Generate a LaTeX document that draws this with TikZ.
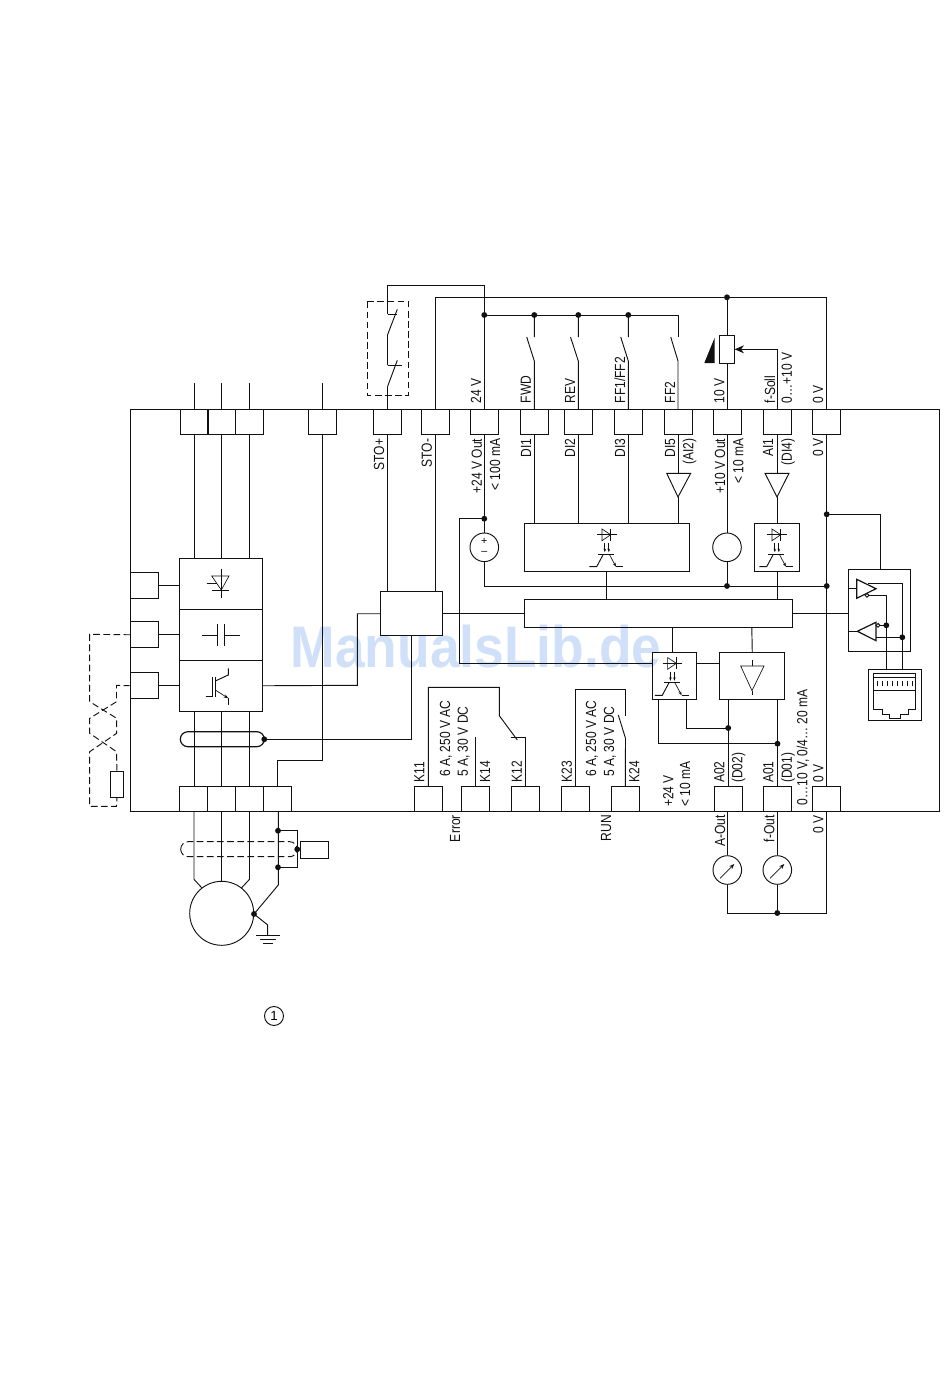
\documentclass[tikz,border=0pt]{standalone}
\usepackage{fontspec}
\setmainfont{Liberation Sans}
\newfontfamily\lblfont[FakeStretch=0.82]{Liberation Sans}
\newfontfamily\wmfont[FakeStretch=0.91]{Liberation Sans}
\usetikzlibrary{arrows.meta}
\definecolor{wmark}{HTML}{CFE0F8}
\definecolor{wire}{HTML}{111111}
\tikzset{
  box/.style={draw=wire,line width=0.7pt,inner sep=0,minimum width=#1},
  term/.style={box=28*0.75pt,minimum height=25*0.75pt},
  lbl/.style={rotate=90,anchor=west,inner sep=0,text height=7.6pt,text depth=0pt,font=\lblfont\fontsize{11}{12}\selectfont,text=wire},
  dot/.style={circle,fill=wire,inner sep=0,minimum size=4.4pt},
  ln/.style={draw=wire,line width=0.7pt},
  thinln/.style={draw=wire,line width=0.5pt},
  dashln/.style={draw=wire,line width=0.7pt,dash pattern=on 5pt off 2.6pt},
  meter/.style={draw=wire,line width=0.7pt,circle,inner sep=0,minimum size=28.6*0.75pt},
  opto/.pic={
    \draw[thinln] (-9.4,0) -- (10,0);
    \draw[thinln] (-4.7,-5.7) -- (-4.7,6) -- (4,0) -- cycle;
    \draw[thinln] (4,-6) -- (4,6);
    \draw[thinln,-{Stealth[length=2.6pt]}] (-1.9,8.5) -- (-1.9,17.5);
    \draw[thinln,-{Stealth[length=2.6pt]}] (2.1,8.5) -- (2.1,17.5);
    \draw[ln] (-8.4,19.6) -- (7.3,19.6);
    \draw[ln] (-3.4,19.6) -- (-10,32) -- (-17.4,32);
    \draw[thinln,-{Stealth[length=3pt]}] (2.6,19.6) -- (9.3,32);
    \draw[ln] (9.3,32) -- (16.6,32);
  }
}
\begin{document}
\begin{tikzpicture}[x=0.75pt,y=-0.75pt]
  \useasboundingbox (0,0) rectangle (950,1398);
  % watermark
  \node[text=wmark,inner sep=0,font=\wmfont\bfseries\fontsize{44}{50}\selectfont] (wm) at (476,647) {ManualsLib.de};

  % frame
  \node[box=809*0.75pt,minimum height=402*0.75pt,anchor=north west] (frame) at (130.3,409.3) {};

  % terminals on top
  \foreach \tname/\tx in {tL/194,tM/221.9,tR/249.8,tPE/322.7,tSa/387.5,tSb/435,tV/484.3,tDa/534.3,tDb/578.3,tDc/628.3,tDe/678,tTen/727,tAI/777,tZ/826.7}
    \node[term] (\tname) at (\tx,421.8) {};
  % terminals at the bottom
  \foreach \tname/\tx in {bU/193.5,bV/221.5,bW/249.5,bPE/277.7,bKa/428.3,bKb/475.3,bKc/525,bKd/575,bKe/625.3,bAO/728.2,bAP/777.5,bZ/826.2}
    \node[term] (\tname) at (\tx,799) {};
  % boxes on the left edge
  \node[term,anchor=north west,minimum height=26*0.75pt] (sa) at (130.3,572.3) {};
  \node[term,anchor=north west,minimum height=26*0.75pt] (sb) at (130.3,621.3) {};
  \node[term,anchor=north west,minimum height=26*0.75pt] (sc) at (130.3,672.3) {};

  % power stage
  \node[box=83*0.75pt,minimum height=51*0.75pt,anchor=north west] (rect) at (179.3,558.3) {};
  \node[box=83*0.75pt,minimum height=51*0.75pt,anchor=north west] (link) at (179.3,609.3) {};
  \node[box=83*0.75pt,minimum height=51*0.75pt,anchor=north west] (inv) at (179.3,660.3) {};

  % control boxes
  \node[box=61.4*0.75pt,minimum height=44*0.75pt,anchor=north west] (sto) at (380.3,591.3) {};
  \node[box=164.7*0.75pt,minimum height=47.4*0.75pt,anchor=north west] (optoA) at (524,523.3) {};
  \node[box=44.4*0.75pt,minimum height=47.4*0.75pt,anchor=north west] (optoB) at (754.3,523.3) {};
  \node[box=267.7*0.75pt,minimum height=28*0.75pt,anchor=north west] (bus) at (524,599.3) {};
  \node[box=44*0.75pt,minimum height=47*0.75pt,anchor=north west] (optoC) at (651.7,652.3) {};
  \node[box=65*0.75pt,minimum height=47*0.75pt,anchor=north west] (amp) at (719.3,652.3) {};
  \node[box=62*0.75pt,minimum height=81.4*0.75pt,anchor=north west] (drv) at (848.3,569.3) {};
  \node[box=52.4*0.75pt,minimum height=51*0.75pt,anchor=north west] (rj) at (868.3,669.3) {};
  \node[box=27.4*0.75pt,minimum height=16.4*0.75pt,anchor=north west] (enc) at (300.3,841.3) {};
  \node[box=12.4*0.75pt,minimum height=25.7*0.75pt,anchor=north west] (brk) at (110.3,771) {};
  \node[box=14.4*0.75pt,minimum height=28*0.75pt] (pot) at (727,349.3) {};

  % sources, meters, motor
  \node[meter] (srcA) at (484.3,547.3) {};
  \node[meter] (srcB) at (727,547.3) {};
  \node[meter] (mA) at (727.3,870) {};
  \node[meter] (mF) at (777.3,870) {};
  \node[draw=wire,line width=0.7pt,circle,inner sep=0,minimum size=64*0.75pt] (motor) at (221.7,913.3) {};
  \node[draw=wire,line width=0.7pt,circle,inner sep=0,minimum size=19*0.75pt,font=\fontsize{10}{12}\selectfont] (note) at (274,1016) {1};
  \node[inner sep=0,font=\fontsize{8}{9}\selectfont] (plus) at (484.3,541) {+};
  \node[inner sep=0,font=\fontsize{8}{9}\selectfont] (minus) at (484.3,553) {--};

  % dots
  \node[dot] (dTop) at (727,297.3) {};
  \node[dot] (dBusV) at (484.3,315) {};
  \node[dot] (dBusA) at (534.3,315) {};
  \node[dot] (dBusB) at (578.3,315) {};
  \node[dot] (dBusC) at (628.3,315) {};
  \node[dot] (dSrc) at (484.3,518.7) {};
  \node[dot] (dZa) at (826.7,514.3) {};
  \node[dot] (dZb) at (826.7,586) {};
  \node[dot] (dMid) at (727,586) {};
  \node[dot] (dAO) at (728.2,728) {};
  \node[dot] (dAP) at (777.5,743.7) {};
  \node[dot] (dMet) at (777.3,913) {};
  \node[dot] (dRing) at (264.3,739.3) {};
  \node[dot] (dShA) at (278,830.7) {};
  \node[dot] (dShB) at (278,867.3) {};
  \node[dot] (dShC) at (297.2,849.3) {};
  \node[dot] (dStar) at (254,914) {};
  \node[dot] (dDa) at (886.3,625.3) {};
  \node[dot] (dDb) at (902.3,637.3) {};

  % free ends and switch points
  \coordinate (inL) at (194,383);
  \coordinate (inM) at (221.9,383);
  \coordinate (inR) at (249.8,383);
  \coordinate (inPE) at (322.7,383);
  \coordinate (cSa) at (387.5,335);
  \coordinate (cSb) at (387.5,386.7);

  % mains and motor wires
  \draw[ln] (inL) -- (tL.north) (tL.south) -- (tL.south |- rect.north);
  \draw[ln] (inM) -- (tM.north) (tM.south) -- (tM.south |- rect.north);
  \draw[ln] (inR) -- (tR.north) (tR.south) -- (tR.south |- rect.north);
  \draw[ln] (inL |- inv.south) -- (inL |- bU.north);
  \draw[ln] (inM |- inv.south) -- (inM |- bU.north);
  \draw[ln] (inR |- inv.south) -- (inR |- bU.north);
  \draw[ln] (inPE) -- (tPE.north) (tPE.south) -- (322.7,760.3) -| (bPE.north);
  \draw[ln] (bU.south -| inL) -- (194,879.3) -- (motor.128);
  \draw[ln] (bV.south) -- (motor.north -| bV);
  \draw[ln] (bW.south) -- (249.5,879.3) -- (motor.52);
  \draw[ln] (278.3,811.3) -- (278.3,885) -- (dStar.center) -- (267.7,925) -- (267.7,935);
  \draw[ln] (256,935) -- (280,935) (260,939.3) -- (276,939.3) (263.3,943.3) -- (272.7,943.3);
  \draw[ln] (dShA.center) -| (dShC.center) |- (dShB.center);
  \draw[ln] (dShC.center) -- (enc.west);
  \draw[dashln,rounded corners=7.5*0.75pt] (180.7,841.7) rectangle (297.2,856.7);
  \draw[ln,line width=0.9pt,rounded corners=7.5*0.75pt] (180.3,731.7) rectangle (264.3,746.7);

  % left edge
  \draw[ln] (sa.east) -- (sa.east -| rect.west);
  \draw[ln] (sb.east) -- (sb.east -| link.west);
  \draw[ln] (sc.east) -- (sc.east -| inv.west);
  \draw[dashln] (sb.west) -- (89.7,634.3) -- (89.7,701.7) -- (116.7,718.3) -- (116.7,733.3) -- (89.7,751.7) -- (89.7,806.3) -- (116.5,806.3) -- (brk.south);
  \draw[dashln] (sc.west) -- (116.5,685.3) -- (116.5,701.7) -- (89.7,718.3) -- (89.7,733.3) -- (116.5,751.7) -- (brk.north);

  % symbols of the power stage
  \draw[thinln] (221.3,569.3) -- (221.3,597.7) (206.7,583.3) -- (217.3,583.3);
  \draw[thinln] (211.7,576) -- (229,576) -- (221.3,590) -- cycle;
  \draw[ln] (211.7,590) -- (229,590);
  \draw[ln] (202.3,635.3) -- (217,635.3) (224.3,635.3) -- (239.7,635.3);
  \draw[ln] (217,624.3) -- (217,645.7) (224.3,624.3) -- (224.3,645.7);
  \draw[ln] (205.7,696) -- (212.3,696) -- (212.3,676.7) (215.3,676.7) -- (215.3,696.7);
  \draw[ln] (215.3,681) -- (228.3,675) -- (228.3,668.3);
  \draw[ln] (228.3,698.3) -- (228.3,705);
  \draw[thinln,-{Stealth[length=3.5pt]}] (215.3,690) -- (228.3,698.3);

  % stage to safety box
  \draw[ln] (inv.east |- sc) -- (357.3,685.3) |- (sto.west);
  \draw[ln] (dRing.center) -- (411.7,739.3) -- (411.7,635.3);
  \draw[ln] (tSa.south) -- (tSa.south |- sto.north);
  \draw[ln] (tSb.south) -- (tSb.south |- sto.north);

  % safety switches
  \draw[dashln] (367.3,301.5) rectangle (408.5,395.3);
  \draw[ln] (tSa.north) -- (cSb);
  \draw[ln] (cSb) -- (397.3,360.3);
  \draw[ln] (387.5,365.3) -- (401.7,365.3) (387.5,365.3) -- (cSa);
  \draw[ln] (cSa) -- (397.3,309.3);
  \draw[ln] (387.5,314) -- (397.3,314);
  \draw[ln] (387.5,314) |- (484.3,285.5) -- (tV.north);
  \draw[ln] (tSb.north) |- (dTop.center) -| (tZ.north);

  % inputs
  \draw[ln] (dBusV.center) -- (678,315) -- (678,337);
  \draw[ln] (dBusA.center) -- (534.3,337) (526.7,337) -- (534.3,361) -- (tDa.north);
  \draw[ln] (dBusB.center) -- (578.3,337) (570.5,337) -- (578.3,361) -- (tDb.north);
  \draw[ln] (dBusC.center) -- (628.3,337) (620.7,337) -- (628.3,361) -- (tDc.north);
  \draw[ln] (670.7,337) -- (678,361) -- (tDe.north);

  % potentiometer
  \draw[ln] (dTop.center) -- (pot.north);
  \draw[ln] (pot.south) -- (tTen.north);
  \draw[ln,-{Stealth[length=7pt,width=6pt]}] (tAI.north) |- (pot.east);
  \fill[wire] (704.3,363) -- (714.5,363) -- (714.5,338) -- cycle;

  % input amplifiers
  \draw[ln] (666.7,473.3) -- (690.7,473.3) -- (678,497) -- cycle;
  \draw[ln] (765,473.3) -- (789,473.3) -- (777,497) -- cycle;
  \draw[ln] (tDa.south) -- (tDa.south |- optoA.north);
  \draw[ln] (tDb.south) -- (tDb.south |- optoA.north);
  \draw[ln] (tDc.south) -- (tDc.south |- optoA.north);
  \draw[ln] (tDe.south) -- (678,473.3) (678,497) -- (678,523.3);
  \draw[ln] (tAI.south) -- (777,473.3) (777,497) -- (optoB.north -| tAI);
  \draw[ln] (optoB.south -| tAI) -- (bus.north -| tAI);
  \draw[ln] (optoA.south) -- (optoA.south |- bus.north);

  % supplies
  \draw[ln] (tV.south) -- (srcA.north);
  \draw[ln] (tTen.south) -- (srcB.north);
  \draw[ln] (srcB.south) -- (dMid.center);
  \draw[ln] (srcA.south) |- (dZb.center);
  \draw[ln] (tZ.south) -- (bZ.north -| tZ);
  \draw[ln] (dSrc.center) -- (459.3,518.7) -- (459.3,663.3) -- (651.7,663.3);
  \draw[ln] (sto.east) -- (bus.west |- sto);
  \draw[ln] (bus.east) -- (drv.west |- bus);

  % relays
  \draw[ln] (bKa.north) -- (428.3,687.3) -| (499.3,715.7) -- (517.3,740);
  \draw[ln] (bKb.north) -- (475.3,737.3);
  \draw[ln] (bKc.north) -- (525,737.3) -- (510.7,737.3);
  \draw[ln] (bKd.north) -- (575,689.3) -| (625.5,716);
  \draw[ln] (bKe.north) -- (625.5,738.3) -- (618.3,715);

  % outputs
  \draw[ln] (672.3,627.3) -- (672.3,652.3);
  \draw[ln] (751.8,627.3) -- (amp.north);
  \draw[ln] (695.7,663.3) -- (719.3,663.3);
  \draw[ln] (amp.south -| bAO) -- (bAO.north);
  \draw[ln] (amp.south -| bAP) -- (bAP.north);
  \draw[ln] (686.3,699.3) |- (dAO.center);
  \draw[ln] (658.3,699.3) |- (dAP.center);
  \draw[thinln] (740.7,666) -- (764,666) -- (752,690.7) -- cycle;
  \draw[thinln] (752,660) -- (752,666) (752,690.7) -- (752,695);

  % meters
  \draw[ln] (bAO.south -| mA) -- (mA.north);
  \draw[ln] (bAP.south -| mF) -- (mF.north);
  \draw[ln] (mA.south) |- (dMet.center);
  \draw[ln] (mF.south) -- (dMet.center);
  \draw[ln] (dMet.center) -| (bZ.south);
  \draw[thinln,-{Stealth[length=4pt]}] (720,878.3) -- (734.3,864);
  \draw[thinln,-{Stealth[length=4pt]}] (770,878.3) -- (784.3,864);

  % drivers and socket
  \draw[ln] (dZa.center) -| (880.3,569.3);
  \draw[ln] (848.3,588.5) -- (856.7,588.5) (848.3,631.3) -- (857.3,631.3);
  \draw[ln,line width=0.9pt] (856.7,579.3) -- (876,588.7) -- (856.7,598.3) -- cycle;
  \draw[ln,line width=0.9pt] (857.3,631.3) -- (876,622.3) -- (876,640.7) -- cycle;
  \draw[ln,fill=white] (867,595.3) circle (1.9);
  \draw[ln,fill=white] (878,625.3) circle (1.9);
  \draw[ln] (868,583.3) -| (902.3,669.3);
  \draw[ln] (869,595.3) -| (886.3,669.3);
  \draw[ln] (880,625.3) -- (dDa.center);
  \draw[ln] (876,637.3) -- (dDb.center);
  \draw[ln] (873.3,690) -- (873.3,673.3) -- (915.7,673.3) -- (915.7,690) -- cycle;
  \draw[ln] (873.3,677.7) -- (915.7,677.7);
  \draw[ln] (873.3,690) -- (873.3,709.7) -- (882,709.7) -- (882,714.7) -- (889.3,714.7) -- (889.3,718.3) -- (900.7,718.3) -- (900.7,714.7) -- (908.3,714.7) -- (908.3,709.7) -- (915.7,709.7) -- (915.7,690);
  \foreach \px in {0,...,7}
    \draw[thinln] ({877.3+\px*5.06},681) -- ({877.3+\px*5.06},686);

  % opto couplers
  \pic at (606.7,534.7) {opto};
  \pic at (776.7,534.7) {opto};
  \pic at (672.3,663.3) {opto};

  % labels above the frame
  \node[lbl] (l24) at (476,403.5) {24 V};
  \node[lbl] (lFWD) at (525.7,403.5) {FWD};
  \node[lbl] (lREV) at (570,403.5) {REV};
  \node[lbl] (lFFa) at (620,403.5) {FF1/FF2};
  \node[lbl] (lFFb) at (670,403.5) {FF2};
  \node[lbl] (lTen) at (719.3,403.5) {10 V};
  \node[lbl] (lSoll) at (770,403.5) {f-Soll};
  \node[lbl] (lRange) at (786.7,403.5) {0…+10 V};
  \node[lbl] (lZt) at (818,403.5) {0 V};
  % labels below the top edge
  \node[lbl,anchor=east] (lSTOa) at (379,438.5) {STO+};
  \node[lbl,anchor=east] (lSTOb) at (426.7,438.5) {STO-};
  \node[lbl,anchor=east] (lOut) at (476.7,438.5) {+24 V Out};
  \node[lbl,anchor=east] (lMa) at (495,438.5) {< 100 mA};
  \node[lbl,anchor=east] (lDIa) at (526,438.5) {DI1};
  \node[lbl,anchor=east] (lDIb) at (570,438.5) {DI2};
  \node[lbl,anchor=east] (lDIc) at (620,438.5) {DI3};
  \node[lbl,anchor=east] (lDIe) at (670,438.5) {DI5};
  \node[lbl,anchor=east] (lAIb) at (688.3,438.5) {(AI2)};
  \node[lbl,anchor=east] (lOutb) at (720,438.5) {+10 V Out};
  \node[lbl,anchor=east] (lMb) at (738.3,438.5) {< 10 mA};
  \node[lbl,anchor=east] (lAIa) at (768,438.5) {AI1};
  \node[lbl,anchor=east] (lDId) at (786.7,438.5) {(DI4)};
  \node[lbl,anchor=east] (lZm) at (818,438.5) {0 V};
  % labels above the bottom edge
  \node[lbl] (lKa) at (419.3,782.5) {K11};
  \node[lbl] (lKb) at (485,782.5) {K14};
  \node[lbl] (lKc) at (516.7,782.5) {K12};
  \node[lbl] (lKd) at (566.7,782.5) {K23};
  \node[lbl] (lKe) at (634.3,782.5) {K24};
  \node[lbl] (lACa) at (445,777) {6 A, 250 V AC};
  \node[lbl] (lDCa) at (462.7,777) {5 A, 30 V DC};
  \node[lbl] (lACb) at (591,777) {6 A, 250 V AC};
  \node[lbl] (lDCb) at (609,777) {5 A, 30 V DC};
  \node[lbl] (lRel) at (668.3,807) {+24 V};
  \node[lbl] (lMc) at (685,807) {< 10 mA};
  \node[lbl] (lAOb) at (719.3,783) {A02};
  \node[lbl] (lDOb) at (737.3,783) {(D02)};
  \node[lbl] (lAOa) at (768.3,783) {A01};
  \node[lbl] (lDOa) at (786.7,783) {(D01)};
  \node[lbl] (lAna) at (802.3,805.5) {0…10 V, 0/4… 20 mA};
  \node[lbl] (lZb) at (818.3,782.5) {0 V};
  % labels below the frame
  \node[lbl,anchor=east] (lErr) at (455,815) {Error};
  \node[lbl,anchor=east] (lRun) at (606,815) {RUN};
  \node[lbl,anchor=east] (lAOut) at (720,815) {A-Out};
  \node[lbl,anchor=east] (lFOut) at (769.3,815) {f-Out};
  \node[lbl,anchor=east] (lZz) at (818.3,815) {0 V};
\end{tikzpicture}
\end{document}
